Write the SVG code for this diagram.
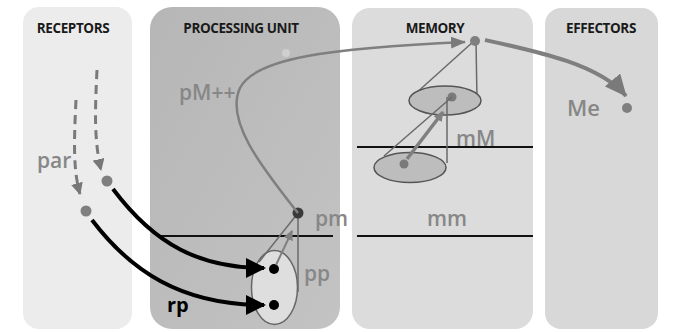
<svg xmlns="http://www.w3.org/2000/svg" width="674" height="332" viewBox="0 0 674 332">
<style>
.title{font-family:"Open Sans","Liberation Sans",sans-serif;font-weight:700;font-size:13.5px;fill:#1a1a1a;text-anchor:middle;letter-spacing:-0.4px}
.lbl{font-family:"Open Sans","Liberation Sans",sans-serif;font-weight:600;fill:#878787}
.cone{fill:none;stroke:#6a6a6a;stroke-width:1.5}
.ell{fill:#bdbdbd;stroke:#555;stroke-width:1.5}
.hline{stroke:#111;stroke-width:2}
.blk{fill:none;stroke:#000;stroke-width:4}
.dash{fill:none;stroke:#7a7a7a;stroke-width:3;stroke-dasharray:9 6}
.gray{fill:none;stroke:#7f7f7f}
</style>
<defs>
<marker id="bh" markerUnits="userSpaceOnUse" viewBox="0 0 20 20" markerWidth="20" markerHeight="20" refX="18" refY="10" orient="auto"><path d="M0,0 L20,10 L0,20 z" fill="#000"/></marker>
<marker id="gh" markerUnits="userSpaceOnUse" viewBox="0 0 12 12" markerWidth="12" markerHeight="12" refX="11" refY="6" orient="auto"><path d="M0,0 L12,6 L0,12 z" fill="#777"/></marker>
<marker id="gm" markerUnits="userSpaceOnUse" viewBox="0 0 15 12" markerWidth="15" markerHeight="12" refX="14" refY="6" orient="auto"><path d="M0,0 L15,6 L0,12 z" fill="#7a7a7a"/></marker>
<marker id="gb" markerUnits="userSpaceOnUse" viewBox="0 0 22 20" markerWidth="22" markerHeight="20" refX="21" refY="10" orient="auto"><path d="M0,0 L22,10 L0,20 z" fill="#7a7a7a"/></marker>
<marker id="gs" markerUnits="userSpaceOnUse" viewBox="0 0 10 10" markerWidth="10" markerHeight="10" refX="9" refY="5" orient="auto"><path d="M0,0 L10,5 L0,10 z" fill="#808080"/></marker>
<linearGradient id="pg" x1="0" y1="0" x2="1" y2="1"><stop offset="0" stop-color="#b6b6b6"/><stop offset="1" stop-color="#c3c3c3"/></linearGradient>
</defs>
<rect width="674" height="332" fill="#fff"/>

<g id="receptors">
<rect x="23" y="7" width="109" height="322" rx="16" fill="#ececec"/>
<text class="title" x="73" y="33">RECEPTORS</text>
</g>
<g id="processing-unit">
<rect x="150" y="7" width="190" height="322" rx="22" fill="url(#pg)"/>
<text class="title" x="241" y="33">PROCESSING UNIT</text>
<circle cx="286" cy="53" r="4" fill="#cfcfcf"/>
</g>
<g id="memory">
<rect x="352" y="8" width="181" height="321" rx="18" fill="#dcdcdc"/>
<text class="title" x="435" y="33">MEMORY</text>
</g>
<g id="effectors">
<rect x="545" y="8" width="113" height="321" rx="16" fill="#d8d8d8"/>
<text class="title" x="601" y="33">EFFECTORS</text>
</g>

<g id="level-lines">
<line class="hline" x1="157" y1="236" x2="333" y2="236"/>
<line class="hline" x1="357" y1="236" x2="533" y2="236"/>
<line class="hline" x1="357" y1="147" x2="533" y2="147"/>
</g>

<g id="pp-node">
<ellipse cx="274.5" cy="287.5" rx="23" ry="37" fill="#dedede" stroke="#666" stroke-width="1.5"/>
<circle cx="274" cy="269" r="5" fill="#000"/>
<circle cx="274" cy="305" r="5" fill="#000"/>
<text class="lbl" x="304" y="281" font-size="21">pp</text>
</g>
<g id="pm-node">
<line class="cone" x1="298" y1="213" x2="259" y2="262"/>
<line class="cone" x1="298" y1="213" x2="298" y2="292"/>
<circle cx="298" cy="213" r="5.5" fill="#3a3a3a"/>
<text class="lbl" x="315" y="226" font-size="21">pm</text>
</g>
<g id="mM-upper">
<line class="cone" x1="474" y1="41" x2="414" y2="95"/>
<line class="cone" x1="476" y1="41" x2="477" y2="100"/>
<ellipse class="ell" cx="445" cy="100.5" rx="36" ry="14.5"/>
<circle cx="452" cy="97" r="4.5" fill="#7a7a7a"/>
</g>
<g id="mM-lower">
<line class="cone" x1="452" y1="97" x2="384" y2="156"/>
<line class="cone" x1="447" y1="97" x2="447" y2="163"/>
<ellipse class="ell" cx="410" cy="167.5" rx="36" ry="15"/>
<circle cx="404" cy="164" r="4.5" fill="#7a7a7a"/>
<text class="lbl" x="456" y="146" font-size="21">mM</text>
</g>
<g id="mm-node">
<text class="lbl" x="427" y="226" font-size="21">mm</text>
</g>
<g id="memory-top">
<circle cx="475" cy="41" r="5" fill="#7f7f7f"/>
</g>
<g id="Me-node">
<circle cx="627" cy="108" r="5" fill="#7f7f7f"/>
<text class="lbl" x="567" y="116" font-size="22">Me</text>
</g>
<g id="par-node">
<circle cx="107" cy="181" r="5.5" fill="#7f7f7f"/>
<circle cx="86" cy="211" r="5.5" fill="#7f7f7f"/>
<text class="lbl" x="37" y="168" font-size="21">par</text>
</g>
<g id="rp-label">
<text x="167" y="312" font-family="'Open Sans','Liberation Sans',sans-serif" font-weight="700" font-size="20" fill="#000">rp</text>
</g>

<g id="connectors">
<path class="dash" d="M97,70 C95,110 94,140 101,170" marker-end="url(#gh)"/>
<path class="dash" d="M76,100 C74,140 73,170 80,194" marker-end="url(#gh)"/>
<path class="blk" d="M113,189 C155,245 200,268 264,268" marker-end="url(#bh)"/>
<path class="blk" d="M92,220 C130,270 180,305 264,305" marker-end="url(#bh)"/>
<path class="gray" stroke-width="2.5" d="M298,213 C260,165 225,120 240,88 C255,58 330,48 465,42" marker-end="url(#gm)"/>
<path class="gray" stroke-width="4" d="M485,40 C540,52 600,65 626,96" marker-end="url(#gb)"/>
<path class="gray" stroke-width="2" d="M276,265 L292,231" marker-end="url(#gs)"/>
<path class="gray" stroke-width="3.5" d="M407,159 L443,112" marker-end="url(#gs)"/>
<text class="lbl" x="179" y="100" font-size="21">pM++</text>
</g>
</svg>
